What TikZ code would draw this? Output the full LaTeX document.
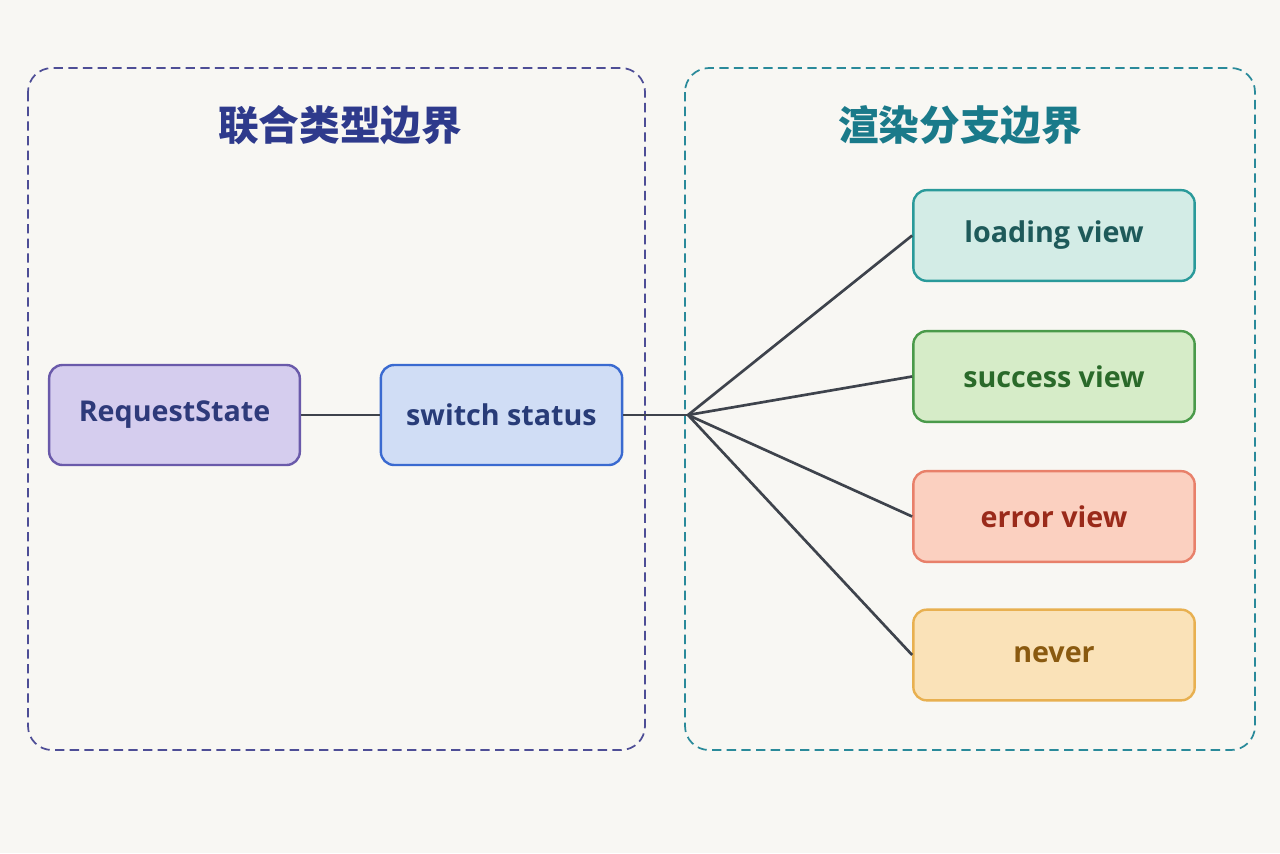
\documentclass[tikz,border=0pt]{standalone}
\usepackage{fontspec}
\setmainfont{Open Sans}
\newfontfamily\cjk{Noto Sans CJK SC}
\definecolor{bgpaper}{HTML}{F8F7F3}
\definecolor{linegray}{HTML}{3E434C}
\tikzset{every picture/.style={line width=0.75pt}}
\tikzset{
  box/.style={draw, dashed, rounded corners=18, line width=1.3pt, dash pattern=on 7pt off 4pt},
  title/.style={font=\cjk\fontsize{30.5}{34}\selectfont\bfseries},
  card/.style={draw, rounded corners=10, line width=1.8pt, minimum height=75pt, font=\fontsize{21.5}{26}\selectfont\bfseries, inner sep=0pt},
  link/.style={draw=linegray, line width=2pt},
}
\begin{document}
\begin{tikzpicture}[x=0.75pt,y=0.75pt,yscale=-1,xscale=1]
    \fill[bgpaper] (0,0) rectangle (1280,853);
    \useasboundingbox (0,0) rectangle (1280,853);

    %Boundaries
    \draw[box, color={rgb,255:red,78;green,78;blue,150}] (28,68) rectangle (645,750);
    \draw[box, color={rgb,255:red,42;green,138;blue,154}] (685,68) rectangle (1255,750);

    % Titles
    \node[title, text={rgb,255:red,46;green,58;blue,140}] (unionTitle) at (340,125) {联合类型边界};
    \node[title, text={rgb,255:red,26;green,122;blue,138}] (branchTitle) at (960,125) {渲染分支边界};

    % Left nodes
    \node[card, minimum width=188pt, fill={rgb,255:red,213;green,205;blue,238}, draw={rgb,255:red,106;green,90;blue,170}, text={rgb,255:red,46;green,58;blue,122}] (reqState) at (174.5,415) {RequestState};
    \node[card, minimum width=181pt, fill={rgb,255:red,208;green,221;blue,245}, draw={rgb,255:red,58;green,106;blue,208}, text={rgb,255:red,40;green,60;blue,120}] (switchStatus) at (501.5,415) {switch status};

    % Right nodes
    \node[card, minimum width=211pt, minimum height=68pt, fill={rgb,255:red,211;green,236;blue,230}, draw={rgb,255:red,42;green,154;blue,154}, text={rgb,255:red,30;green,90;blue,90}] (loadingView) at (1054,235.5) {loading view};
    \node[card, minimum width=211pt, minimum height=68pt, fill={rgb,255:red,214;green,236;blue,200}, draw={rgb,255:red,74;green,154;blue,74}, text={rgb,255:red,42;green,106;blue,42}] (successView) at (1054,376.5) {success view};
    \node[card, minimum width=211pt, minimum height=68pt, fill={rgb,255:red,251;green,208;blue,192}, draw={rgb,255:red,232;green,128;blue,106}, text={rgb,255:red,154;green,42;blue,26}] (errorView) at (1054,516.5) {error view};
    \node[card, minimum width=211pt, minimum height=68pt, fill={rgb,255:red,250;green,226;blue,184}, draw={rgb,255:red,232;green,176;blue,80}, text={rgb,255:red,138;green,90;blue,16}] (neverView) at (1054,655) {never};

    % Connectors
    \coordinate (hub) at (688,415);
    \draw[link] (reqState) -- (switchStatus);
    \draw[link] (switchStatus) -- (hub);
    \draw[link] (hub) -- (loadingView.west);
    \draw[link] (hub) -- (successView.west);
    \draw[link] (hub) -- (errorView.west);
    \draw[link] (hub) -- (neverView.west);
\end{tikzpicture}
\end{document}
